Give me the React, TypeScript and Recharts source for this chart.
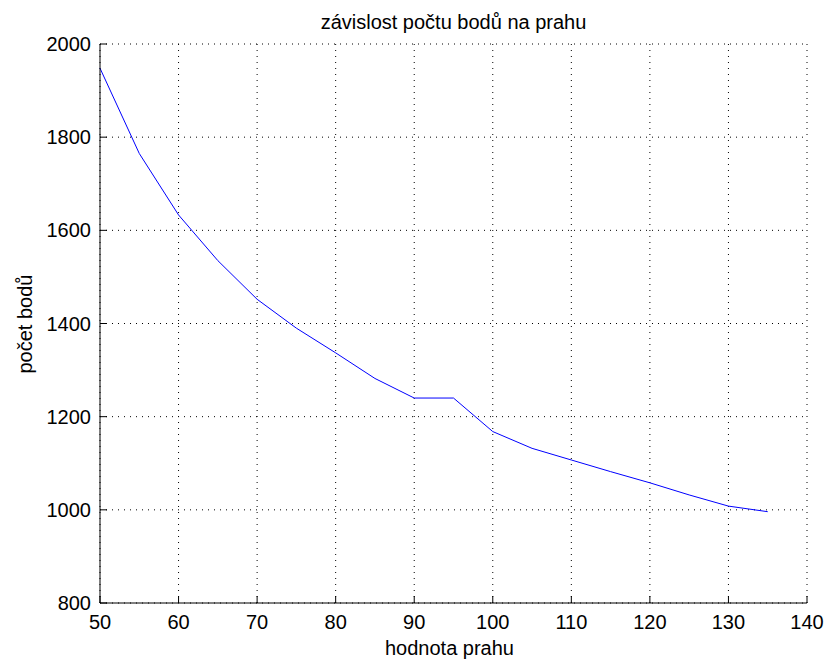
import { CartesianGrid, Line, LineChart, XAxis, YAxis } from 'recharts'

const prah = [50, 55, 60, 65, 70, 75, 80, 85, 90, 95, 100, 105, 110, 115, 120, 125, 130, 135]
const pocetBodu = [1948, 1765, 1633, 1535, 1452, 1390, 1337, 1282, 1240, 1240, 1168, 1132, 1107, 1082, 1058, 1032, 1008, 996]
const xTicks = [50, 60, 70, 80, 90, 100, 110, 120, 130, 140]
const yTicks = [800, 1000, 1200, 1400, 1600, 1800, 2000]

const data = prah.map((p, i) => ({ prah: p, body: pocetBodu[i] }))

const FONT = 'Arial, "Liberation Sans", sans-serif'
const TICK = 7

const BottomTick = ({ x, y, payload }: any) => (
  <g>
    <line x1={x} y1={y} x2={x} y2={y - TICK} stroke={'#000'} />
    <text x={x} y={y + 26} textAnchor={'middle'} fontSize={20} fontFamily={FONT} fill={'#000'}>
      {payload.value}
    </text>
  </g>
)

const TopTick = ({ x, y }: any) => <line x1={x} y1={y} x2={x} y2={y + TICK} stroke={'#000'} />

const LeftTick = ({ x, y, payload }: any) => (
  <g>
    <line x1={x} y1={y} x2={x + TICK} y2={y} stroke={'#000'} />
    <text x={x - 9} y={y + 7} textAnchor={'end'} fontSize={20} fontFamily={FONT} fill={'#000'}>
      {payload.value}
    </text>
  </g>
)

const RightTick = ({ x, y }: any) => <line x1={x} y1={y} x2={x - TICK} y2={y} stroke={'#000'} />

const textStyle = {
  position: 'absolute' as const,
  fontFamily: FONT,
  fontSize: 20,
  lineHeight: '24px',
  color: '#000',
  textAlign: 'center' as const,
  whiteSpace: 'nowrap' as const,
}

export default function App() {
  return (
    <div style={{ position: 'absolute', left: 0, top: 0, width: 827, height: 660, background: '#fff' }}>
      <LineChart width={827} height={660} data={data} margin={{ top: 44, right: 20, bottom: 27, left: 40 }}>
        <CartesianGrid stroke={'#000'} strokeDasharray={'1 5'} />
        <XAxis
          dataKey={'prah'}
          type={'number'}
          domain={[50, 140]}
          ticks={xTicks}
          interval={0}
          height={30}
          tickSize={0}
          tickMargin={0}
          tickLine={false}
          axisLine={{ stroke: '#000' }}
          tick={<BottomTick />}
        />
        <XAxis
          xAxisId={'top'}
          orientation={'top'}
          dataKey={'prah'}
          type={'number'}
          domain={[50, 140]}
          ticks={xTicks}
          interval={0}
          height={0}
          tickSize={0}
          tickMargin={0}
          tickLine={false}
          axisLine={{ stroke: '#000' }}
          tick={<TopTick />}
        />
        <YAxis
          type={'number'}
          domain={[800, 2000]}
          ticks={yTicks}
          interval={0}
          width={60}
          tickSize={0}
          tickMargin={0}
          tickLine={false}
          axisLine={{ stroke: '#000' }}
          tick={<LeftTick />}
        />
        <YAxis
          yAxisId={'right'}
          orientation={'right'}
          type={'number'}
          domain={[800, 2000]}
          ticks={yTicks}
          interval={0}
          width={0}
          tickSize={0}
          tickMargin={0}
          tickLine={false}
          axisLine={{ stroke: '#000' }}
          tick={<RightTick />}
        />
        <Line
          type={'linear'}
          dataKey={'body'}
          stroke={'#0000ff'}
          strokeWidth={1}
          dot={false}
          activeDot={false}
          isAnimationActive={false}
        />
      </LineChart>
      <div style={{ ...textStyle, left: 100, top: 10, width: 707 }}>závislost počtu bodů na prahu</div>
      <div style={{ ...textStyle, left: 96, top: 636, width: 707 }}>hodnota prahu</div>
      <div
        style={{
          ...textStyle,
          left: -125,
          top: 312,
          width: 300,
          transform: 'rotate(-90deg)',
        }}
      >
        počet bodů
      </div>
    </div>
  )
}
